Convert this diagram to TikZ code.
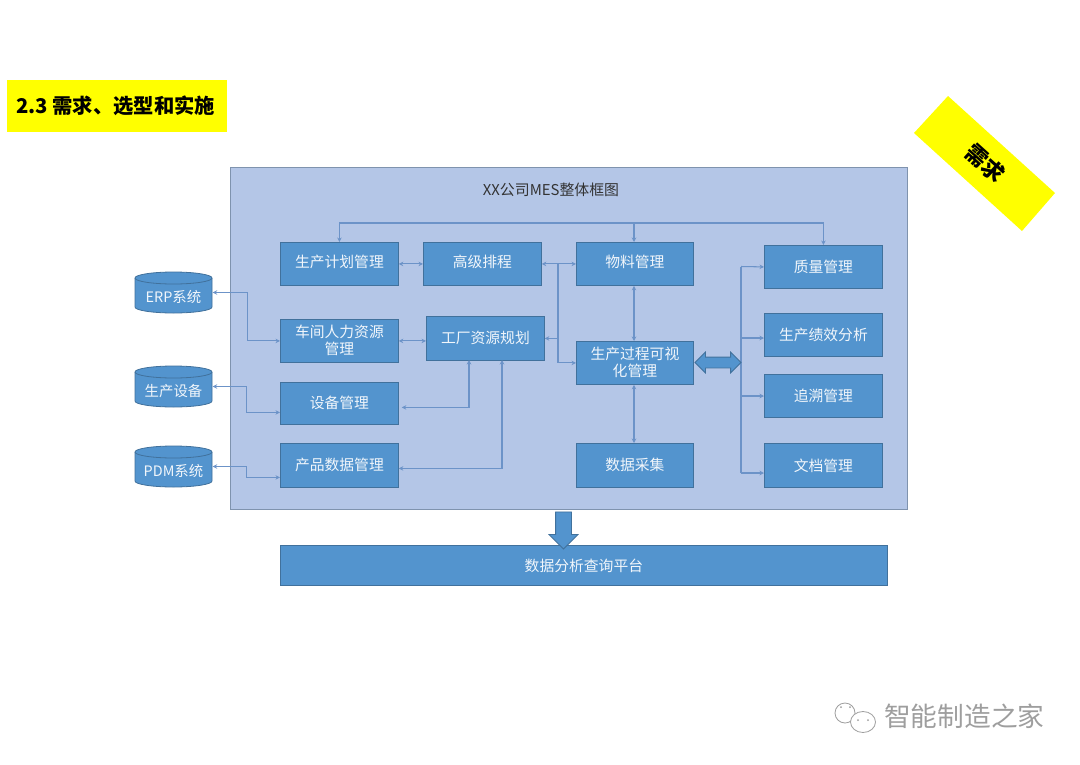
\documentclass[tikz,border=0pt]{standalone}
\usepackage{fontspec}
\setmainfont{Noto Sans CJK SC}
\usetikzlibrary{shapes.arrows,arrows.meta,calc}
\definecolor{boxfill}{HTML}{5394CE}
\definecolor{boxline}{HTML}{41719C}
\definecolor{panel}{HTML}{B4C6E7}
\definecolor{panelline}{HTML}{7F93AE}
\definecolor{conn}{HTML}{6C93C8}
\definecolor{hl}{HTML}{FFFF00}
\tikzset{
  mod/.style={draw=boxline,line width=0.8pt,fill=boxfill,text=white!92!boxfill,font=\fontsize{14.8}{17}\selectfont,align=center,inner sep=0pt,anchor=north west},
  dbtext/.style={inner sep=0pt,text=white!92!boxfill,font=\fontsize{14.4}{17}\selectfont,minimum width=78,minimum height=41},
  link/.style={draw=conn,line width=1.05pt,{Stealth[length=4.5pt,width=4.5pt]}-{Stealth[length=4.5pt,width=4.5pt]}},
  linkf/.style={draw=conn,line width=1.05pt,-{Stealth[length=4.5pt,width=4.5pt]}},
  plainl/.style={draw=conn,line width=1.05pt},
  bigarrow/.style={draw=boxline,line width=0.8pt,fill=boxfill}
}
\newcommand{\modbox}[6]{\node[mod,minimum width=#4-#2,minimum height=#5-#3] (#1) at (#2,#3) {#6\rule[-2.5pt]{0pt}{0pt}};}
\newcommand{\toprow}[6]{\node[mod,minimum width=#4-#2,minimum height=#5-#3] (#1) at (#2,#3) {#6\rule[-4.5pt]{0pt}{0pt}};}
\newcommand{\rbox}[6]{\node[mod,minimum width=#4-#2,minimum height=#5-#3] (#1) at (#2,#3) {#6};}
\newcommand{\dbase}[4]{%
  \fill[boxfill] (135,#2+6) -- (135,#3-6) arc[start angle=180,end angle=0,x radius=38.5,y radius=6] -- (212,#2+6) -- cycle;
  \draw[boxline,line width=0.8pt] (135,#2+6) -- (135,#3-6) arc[start angle=180,end angle=0,x radius=38.5,y radius=6] -- (212,#2+6);
  \draw[boxline,line width=0.8pt,fill=boxfill] (173.5,#2+6) ellipse[x radius=38.5,y radius=6];
  \node[dbtext] (#1) at (173.5,{(#2+#3)/2}) {\rule{0pt}{21pt}#4};}
\begin{document}
\begin{tikzpicture}[x=1pt,y=-1pt]
\useasboundingbox (0,0) rectangle (1080,764);
\fill[white] (0,0) rectangle (1080,764);
% title
\node[fill=hl,minimum width=220,minimum height=52,anchor=north west,inner sep=0pt] (title) at (7,80) {};
\node[font=\fontsize{20.3}{23}\selectfont\bfseries,anchor=west,inner sep=0pt] (titletext) at (16,106) {2.3 需求、选型和实施};
% tag
\fill[hl] (948,96) -- (1055,193) -- (1022,231) -- (914,133) -- cycle;
\node[rotate=-42,font=\fontsize{22}{24}\selectfont\bfseries,inner sep=0pt] (tag) at (985,163) {需求};
% panel
\node[draw=panelline,line width=1.4pt,fill=panel,minimum width=677,minimum height=342,anchor=north west,inner sep=0pt] (panel) at (230,167) {};
\node[font=\fontsize{14.9}{17}\selectfont,text=black!80,inner sep=0pt] (ptitle) at (551,190) {XX公司MES整体框图};
% modules
\toprow{plan}{280}{242}{398}{285}{生产计划管理}
\toprow{sched}{423}{242}{541}{285}{高级排程}
\toprow{mat}{576}{242}{693}{285}{物料管理}
\modbox{hr}{280}{319}{398}{362}{车间人力资源\\管理}
\modbox{res}{426}{316}{544}{360}{工厂资源规划}
\modbox{vis}{576}{341}{693}{384}{生产过程可视\\化管理}
\modbox{dev}{280}{382}{398}{424}{设备管理}
\modbox{pdata}{280}{443}{398}{487}{产品数据管理}
\modbox{acq}{576}{443}{693}{487}{数据采集}
\rbox{qual}{764}{245}{882}{288}{质量管理}
\rbox{perf}{764}{313}{882}{356}{生产绩效分析}
\rbox{trace}{764}{374}{882}{417}{追溯管理}
\rbox{doc}{764}{443}{882}{487}{文档管理}
\rbox{query}{280}{545}{887}{585}{数据分析查询平台}
% databases
\dbase{erp}{272}{313}{ERP系统}
\dbase{equip}{366}{407}{生产设备}
\dbase{pdm}{446}{487}{PDM系统}
% connectors
\coordinate (bus) at (634,223);
\draw[link] (plan.north) |- (bus) -| (qual.north);
\draw[linkf] (bus) -- (bus |- mat.north);
\draw[link] (plan.east) -- (sched.west);
\draw[link] (sched.east) -- (mat.west);
\coordinate (j) at (558,263.5);
\draw[linkf] (j) |- (vis.west);
\draw[linkf] (j |- res.east) -- (res.east);
\draw[link] (hr.east) -- (res.west |- hr.east);
\draw[link] (erp.east) -- ++(35,0) |- (hr.west);
\draw[link] (equip.east) -- ++(34,0) |- ([yshift=-9pt]dev.west);
\draw[link] (pdm.east) -- ++(34,0) |- ([yshift=-12pt]pdata.west);
\coordinate (resa) at (469,360);
\coordinate (resb) at (502,360);
\draw[link] (resa) |- ([yshift=-4pt,xshift=3pt]dev.east);
\draw[link] (resb) |- ([yshift=-3pt]pdata.east);
\draw[link] (mat.south -| bus) -- (vis.north -| bus);
\draw[link,line width=1.5pt] (vis.south -| bus) -- (acq.north -| bus);
\coordinate (rb) at (741,266.5);
\draw[plainl] (rb) -- (rb |- {0,473});
\draw[linkf] (rb) -- (qual.west);
\draw[linkf] (rb |- {0,338}) -- (perf.west |- {0,338});
\draw[linkf] (rb |- {0,396}) -- (trace.west |- {0,396});
\draw[linkf] (rb |- {0,473}) -- (doc.west |- {0,473});
% block arrows
\node[bigarrow,double arrow,inner sep=5pt,minimum height=46,double arrow head extend=5,anchor=center] (dbl) at (718,362.5) {};
\node[bigarrow,single arrow,rotate=-90,inner sep=7.5pt,minimum height=37,single arrow head extend=6.5,anchor=center] (down) at (563.5,526.5) {};
% watermark
\node[font=\fontsize{26.7}{30}\selectfont,text=black!38,inner sep=0pt,anchor=west] (mark) at (884,716) {智能制造之家};
\draw[black!38,line width=0.8pt,fill=white] (845,713) ellipse[x radius=10,y radius=10];
\draw[black!38,line width=0.8pt,fill=white] (863,722) ellipse[x radius=12.5,y radius=10.5];
\foreach \p in {(841,707),(850,707),(858,720),(868,720)} \fill[black!38] \p circle[radius=1];
\end{tikzpicture}
\end{document}
